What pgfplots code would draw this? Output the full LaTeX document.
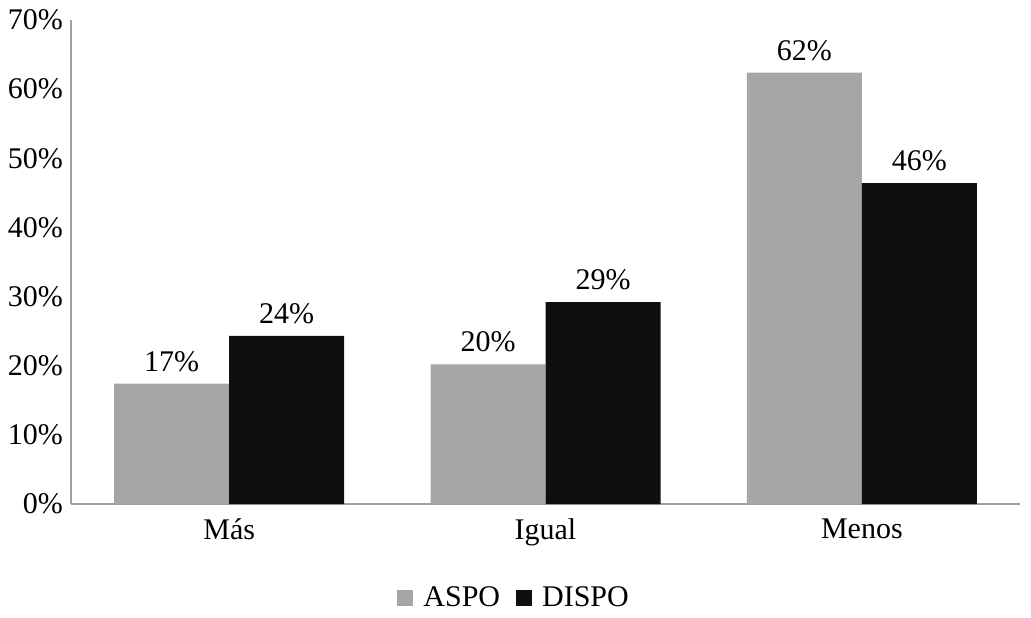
\documentclass[border=0pt]{standalone}
\usepackage{fontspec}
\setmainfont{Liberation Serif}
\usepackage{pgfplots}
\pgfplotsset{compat=1.18}
\definecolor{aspo}{HTML}{A6A6A6}
\definecolor{dispo}{HTML}{0F0F0F}
\definecolor{axgray}{HTML}{A0A0A0}
\begin{document}
\begin{tikzpicture}
\useasboundingbox (-35.5pt,-56.5pt) rectangle (480pt,252pt);
\begin{axis}[
  at={(0,0)}, anchor=south west,
  scale only axis,
  width=474.5pt, height=242pt,
  font=\fontsize{15pt}{17pt}\selectfont,
  ybar=0pt,
  bar width=57.5pt,
  xmin=-0.5, xmax=2.5,
  ymin=0, ymax=70,
  xtick={0,1,2},
  xticklabels={Más,Igual,Menos},
  ytick={0,10,...,70},
  yticklabel={\pgfmathprintnumber{\tick}\%},
  /pgf/number format/assume math mode=true,
  axis x line*=bottom,
  axis y line*=left,
  axis line style={axgray, line width=0.8pt},
  major tick length=0pt,
  tick style={draw=none},
  xticklabel style={yshift=-4pt},
  yticklabel style={xshift=-0.5pt},
  nodes near coords={\pgfmathprintnumber[fixed,precision=0,assume math mode=true]{\pgfplotspointmeta}\%},
  every node near coord/.append style={anchor=south, font=\fontsize{15pt}{17pt}\selectfont, yshift=2.5pt},
  legend style={at={(0.468,-0.195)}, anchor=center, draw=none, legend columns=2,
    /tikz/every even column/.append style={column sep=6pt}, font=\fontsize{15pt}{17pt}\selectfont},
  legend image code/.code={\fill[#1] (0pt,-4pt) rectangle (8pt,4pt);},
  legend cell align=left,
  clip=false,
]
\addplot[fill=aspo, draw=none] coordinates {(0,17.4) (1,20.2) (2,62.4)};
\addplot[fill=dispo, draw=none] coordinates {(0,24.3) (1,29.2) (2,46.4)};
\legend{\hspace{3pt}ASPO,\hspace{3pt}DISPO}
\end{axis}
\end{tikzpicture}
\end{document}
